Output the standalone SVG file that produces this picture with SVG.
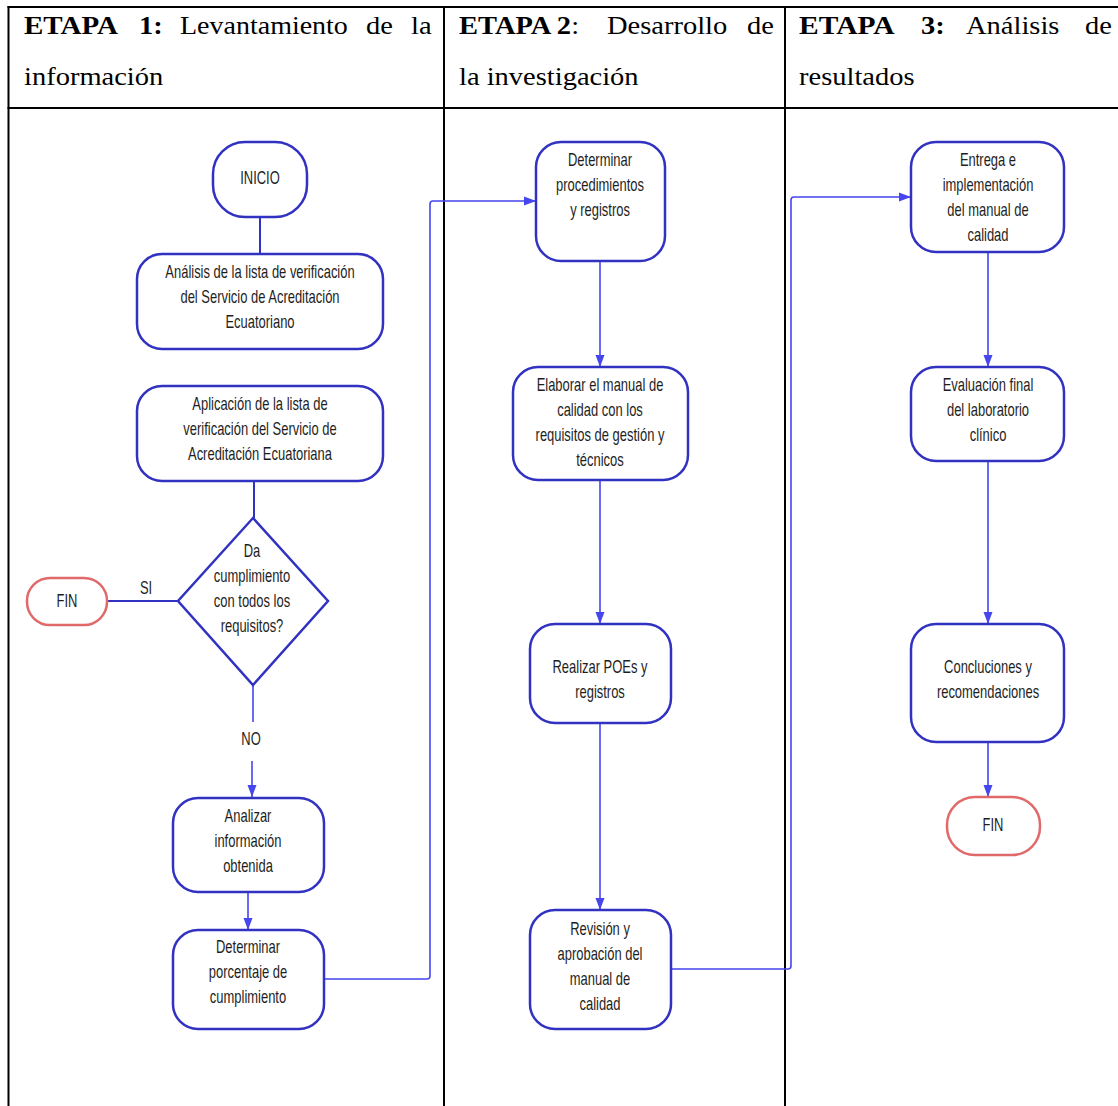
<svg xmlns="http://www.w3.org/2000/svg" width="1118" height="1106" viewBox="0 0 1118 1106">
  <style>
    .grid { stroke: #000; stroke-width: 2; fill: none; }
    .hd { font-family: "Liberation Serif", "Times New Roman", serif; font-size: 25px; fill: #000; }
    .b { font-weight: bold; }
    .box { fill: #fff; stroke: #3232c2; stroke-width: 2.5; }
    .end { fill: #fff; stroke: #e06a6a; stroke-width: 2.5; }
    .lbl { font-family: "Liberation Sans", Arial, sans-serif; font-size: 18px; fill: #1e1e1e; text-anchor: middle; }
    .edge { fill: none; stroke: #4646ee; stroke-width: 1.6; }
    .link { fill: none; stroke: #3232c2; stroke-width: 2; }
  </style>
  <defs>
    <marker id="arrow" markerUnits="userSpaceOnUse" markerWidth="12" markerHeight="10" refX="12" refY="5" orient="auto">
      <path d="M0,0.5 L12,5 L0,9.5 z" fill="#4646ee"/>
    </marker>
  </defs>

  <rect x="0" y="0" width="1118" height="1106" fill="#fff"/>

  <!-- table frame -->
  <g id="table">
    <line class="grid" x1="7.5" y1="7" x2="1118" y2="7"/>
    <line class="grid" x1="7.5" y1="108" x2="1118" y2="108"/>
    <line class="grid" x1="8.5" y1="6" x2="8.5" y2="1106"/>
    <line class="grid" x1="444" y1="6" x2="444" y2="1106"/>
    <line class="grid" x1="785" y1="6" x2="785" y2="1106"/>
  </g>

  <!-- column headings (justified, one word per text) -->
  <g id="headings">
    <text class="hd b" transform="translate(24 34) scale(1.16 1)">ETAPA</text>
    <text class="hd b" transform="translate(139 34) scale(1.14 1)">1:</text>
    <text class="hd" transform="translate(180 34) scale(1.12 1)">Levantamiento</text>
    <text class="hd" transform="translate(366 34) scale(1.14 1)">de</text>
    <text class="hd" transform="translate(411 34) scale(1.14 1)">la</text>
    <text class="hd" transform="translate(24 85) scale(1.14 1)">información</text>

    <text class="hd" transform="translate(459 34) scale(1.14 1)"><tspan class="b">ETAPA 2</tspan>:</text>
    <text class="hd" transform="translate(607 34) scale(1.14 1)">Desarrollo</text>
    <text class="hd" transform="translate(747 34) scale(1.14 1)">de</text>
    <text class="hd" transform="translate(459 85) scale(1.14 1)">la investigación</text>

    <text class="hd b" transform="translate(799 34) scale(1.18 1)">ETAPA</text>
    <text class="hd b" transform="translate(921 34) scale(1.14 1)">3:</text>
    <text class="hd" transform="translate(966 34) scale(1.14 1)">Análisis</text>
    <text class="hd" transform="translate(1085 34) scale(1.14 1)">de</text>
    <text class="hd" transform="translate(799 85) scale(1.14 1)">resultados</text>
  </g>

  <!-- connectors -->
  <g id="connectors">
    <path class="link" d="M260,217 V254"/>
    <path class="link" d="M254,481 V518"/>
    <path class="link" d="M107,601 H178"/>
    <path class="edge" d="M253,685 V722"/>
    <path class="edge" d="M252,761 V797" marker-end="url(#arrow)"/>
    <path class="edge" d="M248,892 V930" marker-end="url(#arrow)"/>
    <path class="edge" d="M324,979 H427 Q430,979 430,976 V204 Q430,201 433,201 H536" marker-end="url(#arrow)"/>
    <path class="edge" d="M600,261 V367" marker-end="url(#arrow)"/>
    <path class="edge" d="M600,480 V624" marker-end="url(#arrow)"/>
    <path class="edge" d="M600,723 V910" marker-end="url(#arrow)"/>
    <path class="edge" d="M671,969 H788 Q791,969 791,966 V200 Q791,197 794,197 H911" marker-end="url(#arrow)"/>
    <path class="edge" d="M988,252 V367" marker-end="url(#arrow)"/>
    <path class="edge" d="M988,461 V624" marker-end="url(#arrow)"/>
    <path class="edge" d="M988,742 V797" marker-end="url(#arrow)"/>
    <text class="lbl" transform="translate(146 0) scale(0.72 1)" y="594">SI</text>
    <text class="lbl" transform="translate(251 0) scale(0.72 1)" y="745">NO</text>
  </g>

  <!-- stage 1 -->
  <g id="inicio">
    <rect class="box" x="213" y="142" width="94" height="75" rx="32"/>
    <text class="lbl" transform="translate(260 0) scale(0.72 1)" y="184">INICIO</text>
  </g>
  <g id="analisis-lista">
    <rect class="box" x="137" y="254" width="246" height="95" rx="25"/>
    <text class="lbl" transform="translate(260 0) scale(0.72 1)"><tspan x="0" y="278">Análisis de la lista de verificación</tspan><tspan x="0" y="303">del Servicio de Acreditación</tspan><tspan x="0" y="328">Ecuatoriano</tspan></text>
  </g>
  <g id="aplicacion-lista">
    <rect class="box" x="137" y="386" width="246" height="95" rx="25"/>
    <text class="lbl" transform="translate(260 0) scale(0.72 1)"><tspan x="0" y="410">Aplicación de la lista de</tspan><tspan x="0" y="435">verificación del Servicio de</tspan><tspan x="0" y="460">Acreditación Ecuatoriana</tspan></text>
  </g>
  <g id="decision">
    <polygon class="box" points="253,518 328,601 253,685 178,601"/>
    <text class="lbl" transform="translate(252 0) scale(0.72 1)"><tspan x="0" y="557">Da</tspan><tspan x="0" y="582">cumplimiento</tspan><tspan x="0" y="607">con todos los</tspan><tspan x="0" y="632">requisitos?</tspan></text>
  </g>
  <g id="fin-1">
    <rect class="end" x="27" y="578" width="80" height="47" rx="23"/>
    <text class="lbl" transform="translate(67 0) scale(0.72 1)" y="607">FIN</text>
  </g>
  <g id="analizar">
    <rect class="box" x="173" y="798" width="151" height="94" rx="25"/>
    <text class="lbl" transform="translate(248 0) scale(0.72 1)"><tspan x="0" y="822">Analizar</tspan><tspan x="0" y="847">información</tspan><tspan x="0" y="872">obtenida</tspan></text>
  </g>
  <g id="porcentaje">
    <rect class="box" x="173" y="930" width="151" height="99" rx="25"/>
    <text class="lbl" transform="translate(248 0) scale(0.72 1)"><tspan x="0" y="953">Determinar</tspan><tspan x="0" y="978">porcentaje de</tspan><tspan x="0" y="1003">cumplimiento</tspan></text>
  </g>

  <!-- stage 2 -->
  <g id="procedimientos">
    <rect class="box" x="536" y="142" width="129" height="119" rx="25"/>
    <text class="lbl" transform="translate(600 0) scale(0.72 1)"><tspan x="0" y="166">Determinar</tspan><tspan x="0" y="191">procedimientos</tspan><tspan x="0" y="216">y registros</tspan></text>
  </g>
  <g id="elaborar-manual">
    <rect class="box" x="513" y="367" width="175" height="113" rx="25"/>
    <text class="lbl" transform="translate(600 0) scale(0.72 1)"><tspan x="0" y="391">Elaborar el manual de</tspan><tspan x="0" y="416">calidad con los</tspan><tspan x="0" y="441">requisitos de gestión y</tspan><tspan x="0" y="466">técnicos</tspan></text>
  </g>
  <g id="poes">
    <rect class="box" x="530" y="624" width="141" height="99" rx="25"/>
    <text class="lbl" transform="translate(600 0) scale(0.72 1)"><tspan x="0" y="673">Realizar POEs y</tspan><tspan x="0" y="698">registros</tspan></text>
  </g>
  <g id="revision">
    <rect class="box" x="530" y="910" width="141" height="119" rx="25"/>
    <text class="lbl" transform="translate(600 0) scale(0.72 1)"><tspan x="0" y="935">Revisión y</tspan><tspan x="0" y="960">aprobación del</tspan><tspan x="0" y="985">manual de</tspan><tspan x="0" y="1010">calidad</tspan></text>
  </g>

  <!-- stage 3 -->
  <g id="entrega">
    <rect class="box" x="911" y="142" width="153" height="110" rx="25"/>
    <text class="lbl" transform="translate(988 0) scale(0.72 1)"><tspan x="0" y="166">Entrega e</tspan><tspan x="0" y="191">implementación</tspan><tspan x="0" y="216">del manual de</tspan><tspan x="0" y="241">calidad</tspan></text>
  </g>
  <g id="evaluacion">
    <rect class="box" x="911" y="367" width="153" height="94" rx="25"/>
    <text class="lbl" transform="translate(988 0) scale(0.72 1)"><tspan x="0" y="391">Evaluación final</tspan><tspan x="0" y="416">del laboratorio</tspan><tspan x="0" y="441">clínico</tspan></text>
  </g>
  <g id="conclusiones">
    <rect class="box" x="911" y="624" width="153" height="118" rx="25"/>
    <text class="lbl" transform="translate(988 0) scale(0.72 1)"><tspan x="0" y="673">Concluciones y</tspan><tspan x="0" y="698">recomendaciones</tspan></text>
  </g>
  <g id="fin-3">
    <rect class="end" x="947" y="797" width="93" height="58" rx="28"/>
    <text class="lbl" transform="translate(993 0) scale(0.72 1)" y="831">FIN</text>
  </g>
</svg>
